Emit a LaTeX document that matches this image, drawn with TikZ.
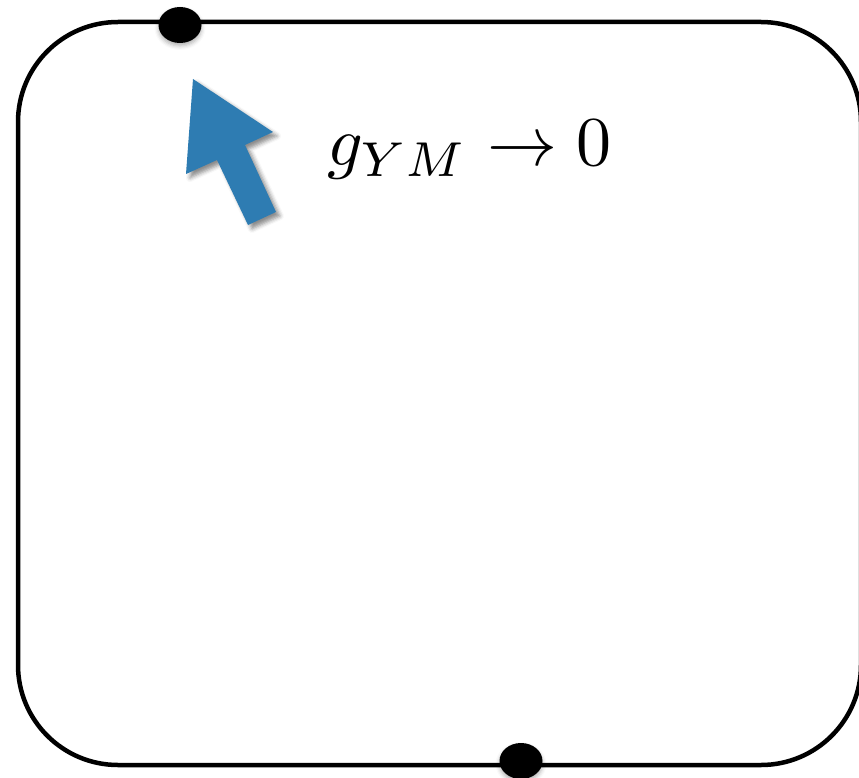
\documentclass[tikz,border=0pt]{standalone}
\usetikzlibrary{shadows.blur,shapes.geometric}
\definecolor{arrowblue}{RGB}{46,124,178}
\tikzset{
  frame/.style={draw=black, line width=4.5pt, rounded corners=100pt},
  dot/.style={ellipse, fill=black, minimum width=43pt, minimum height=36pt, inner sep=0pt,
    blur shadow={shadow xshift=0pt, shadow yshift=-3pt, shadow blur radius=4pt, shadow opacity=30}},
  bigarrow/.style={fill=arrowblue,
    blur shadow={shadow xshift=4pt, shadow yshift=-4pt, shadow blur radius=4pt, shadow opacity=45}},
  label/.style={inner sep=0pt, anchor=base west, scale=7.0}
}
\begin{document}
\begin{tikzpicture}[x=1pt,y=-1pt]
\useasboundingbox (0,0) rectangle (859,778);
\draw[frame] (18,22) rectangle (861,765);
\node[dot] (top) at (180,25) {};
\node[dot] (bottom) at (521,761) {};
\fill[bigarrow] (193,79) -- (273,132) -- (245,145) -- (276,212) -- (248,225) -- (217,160) -- (186,174) -- cycle;
\node[label] (g) at (326,166) {$g_{YM}\to 0$};
\end{tikzpicture}
\end{document}
